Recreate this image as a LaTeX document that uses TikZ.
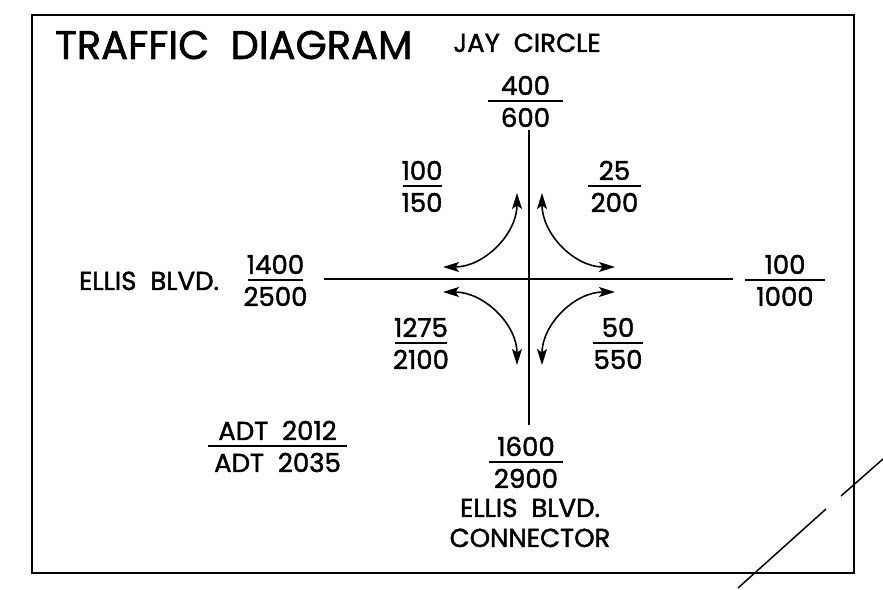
\documentclass[tikz,border=0pt]{standalone}
\usepackage{fontspec}
\setmainfont{Poppins}[FakeBold=1.6]
\usepackage{tikz}
\usetikzlibrary{arrows.meta, positioning, calc}

\tikzset{
  frame/.style={line width=2.2pt},
  road/.style={line width=2pt},
  bar/.style={line width=1.5pt},
  turn/.style={line width=1.6pt, {Stealth[length=16pt,width=10pt,inset=3.5pt]}-{Stealth[length=16pt,width=10pt,inset=3.5pt]}},
  lbl/.style={font=\fontsize{26}{26}\selectfont, inner sep=0pt},
  title/.style={font=\fontsize{40}{40}\selectfont, inner sep=0pt}
}

% volume pair: name, position, half bar length, upper, lower
\newcommand{\volumes}[5]{%
  \coordinate (#1) at (#2);
  \draw[bar] ([xshift=-#3pt]#1) -- ([xshift=#3pt]#1);
  \node[lbl, anchor=base] (#1-up) at ([yshift=6pt]#1) {#4};
  \node[lbl, anchor=base] (#1-dn) at ([yshift=-26pt]#1) {#5};
}

\begin{document}
\begin{tikzpicture}[x=1pt, y=1pt]
  \useasboundingbox (0,0) rectangle (883,589);
  \draw[frame] (32,16) rectangle (854,574);

  % Headings
  \node[title, anchor=base west] (head) at (55,530) {TRAFFIC\ \ DIAGRAM};
  \node[lbl, anchor=base] (jay) at (527,537) {JAY\ \ CIRCLE};
  \node[lbl, anchor=base] (ellis) at (149,299) {ELLIS\ \ BLVD.};
  \node[lbl, anchor=base] (conn1) at (530,72) {ELLIS\ \ BLVD.};
  \node[lbl, anchor=base] (conn2) at (530,42) {CONNECTOR};

  % Roads
  \coordinate (road-w) at (324,310);
  \coordinate (road-e) at (733,310);
  \coordinate (road-n) at (529,459);
  \coordinate (road-s) at (529,164);
  \draw[road] (road-w) -- (road-e);
  \draw[road] (road-n) -- (road-s);

  % Turning movements
  \coordinate (nw-a) at (443,322);
  \coordinate (nw-b) at (517,396);
  \coordinate (ne-a) at (615,322);
  \coordinate (ne-b) at (542,396);
  \coordinate (sw-a) at (443,297);
  \coordinate (sw-b) at (517,224);
  \coordinate (se-a) at (615,297);
  \coordinate (se-b) at (542,224);
  \draw[turn] (nw-a) to[out=0, in=-90] (nw-b);
  \draw[turn] (ne-a) to[out=180, in=-90] (ne-b);
  \draw[turn] (sw-a) to[out=0, in=90] (sw-b);
  \draw[turn] (se-a) to[out=180, in=90] (se-b);

  % Volumes
  \volumes{north}{525.5,488}{37.5}{400}{600}
  \volumes{nw}{422,403}{19.5}{100}{150}
  \volumes{ne}{614.5,403}{26.5}{25}{200}
  \volumes{west}{275.5,309}{27.5}{1400}{2500}
  \volumes{east}{785,309}{40}{100}{1000}
  \volumes{sw}{421,246}{26}{1275}{2100}
  \volumes{se}{618,246}{25}{50}{550}
  \volumes{south}{526,127}{37}{1600}{2900}
  \volumes{legend}{277.5,143}{69.5}{ADT\ \ 2012}{ADT\ \ 2035}

  % Stray strokes
  \draw[line width=1.5pt] (738,1) -- (826,80);
  \draw[line width=1.5pt] (841,93) -- (883,130);
\end{tikzpicture}
\end{document}
